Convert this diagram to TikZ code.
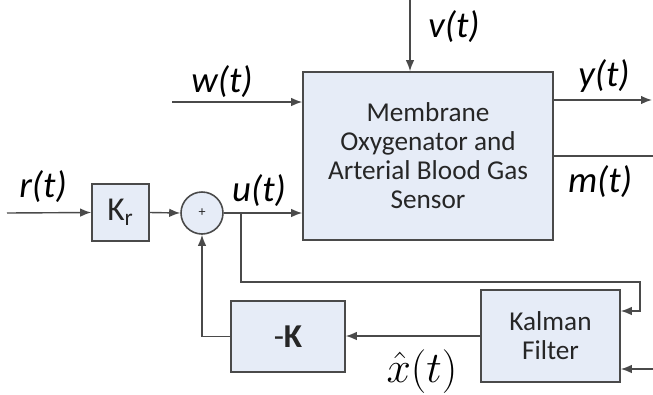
\documentclass[tikz,border=0pt]{standalone}
\usepackage{fontspec}
\setmainfont{Carlito}
\usepackage{xcolor}
\usetikzlibrary{arrows.meta, positioning, calc}

\definecolor{cajaazul}{HTML}{E6ECF7}
\definecolor{borde}{HTML}{4A4A4A}

\tikzset{
	bloque/.style={draw=borde, fill=cajaazul, line width=0.9pt, align=center,
		inner sep=0pt, text=black!85, font=\fontsize{15.5}{16.5}\selectfont},
	flecha/.style={draw=borde, line width=0.8pt, -{Latex[length=2.2mm, width=1.7mm]}},
	linea/.style={draw=borde, line width=0.8pt},
	senal/.style={font=\fontsize{21}{24}\selectfont\itshape},
}

\begin{document}
\begin{tikzpicture}[x=0.2mm, y=-0.2mm]
			\useasboundingbox (0,0) rectangle (653,394);

			% Bloques
			\node[bloque, minimum width=50mm, minimum height=33.6mm] (planta) at (428,156)
				{Membrane\\Oxygenator and\\Arterial Blood Gas\\Sensor};
			\node[bloque, minimum width=11.4mm, minimum height=11.4mm,
				font=\fontsize{19}{22}\selectfont] (ganr) at (120.5,212.5) {K\textsubscript{r}};
			\node[bloque, circle, minimum size=8.4mm, font=\fontsize{8}{9}\selectfont] (suma) at (202,213) {+};
			\node[bloque, minimum width=22.8mm, minimum height=14.2mm,
				font=\fontsize{19}{22}\selectfont] (ganK) at (288,336.5) {-\textbf{K}};
			\node[bloque, minimum width=27.8mm, minimum height=18.4mm] (kalman) at (550.5,336) {Kalman\\Filter};

			% Puntos libres
			\coordinate (rin) at (7,213);
			\coordinate (win) at (172,102);
			\coordinate (vin) at (410,0);
			\coordinate (yout) at (652,100);
			\coordinate (mout) at (653,156);
			\coordinate (ramal) at (241,213);
			\coordinate (esq1) at (241,282);
			\coordinate (esq2) at (640,282);
			\coordinate (esq3) at (640,311);
			\coordinate (min) at (653,369);

			% Conexiones
			\draw[flecha] (rin) -- (ganr.west);
			\draw[flecha] (ganr.east) -- (suma.west);
			\draw[flecha] (suma.east) -- (suma.east -| planta.west);
			\draw[flecha] (win) -- (win -| planta.west);
			\draw[flecha] (vin) -- (vin |- planta.north);
			\draw[flecha] (planta.east |- yout) -- (yout);
			\draw[linea] (planta.east |- mout) -- (mout);
			\draw[flecha] (ramal) -- (esq1) -- (esq2) -- (esq3) -- (esq3 -| kalman.east);
			\draw[flecha] (min) -- (min -| kalman.east);
			\draw[flecha] (kalman.west) -- (kalman.west -| ganK.east);
			\draw[flecha] (ganK.west) -| (suma.south);

			% Etiquetas
			\node[senal] (lr) at (43,187) {r(t)};
			\node[senal] (lu) at (259,191) {u(t)};
			\node[senal] (lw) at (222,82) {w(t)};
			\node[senal] (lv) at (454,27) {v(t)};
			\node[senal] (ly) at (604,76) {y(t)};
			\node[senal] (lm) at (600,182) {m(t)};
			\node[font=\fontsize{24}{28}\selectfont] (lx) at (422,372) {$\hat{x}(t)$};
		\end{tikzpicture}
\end{document}
